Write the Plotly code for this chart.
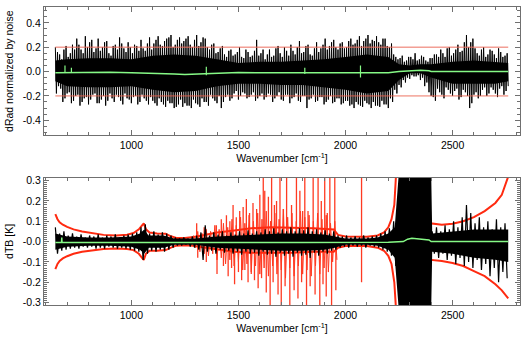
import plotly.graph_objects as go

# ---------------- data ----------------
# channel grid (wavenumber, cm-1) for the noisy black traces
wn_grid = list(range(645, 2746, 20))

# top panel: normalized radiance differences (upper / lower excursions, two sub-channels)
top_hi = [0.20, 0.14, 0.18, 0.12, 0.22, 0.27, 0.18, 0.29, 0.24, 0.16,
          0.27, 0.20, 0.25, 0.13, 0.22, 0.28, 0.19, 0.24, 0.15, 0.21,
          0.26, 0.17, 0.28, 0.23, 0.29, 0.21, 0.27, 0.30, 0.22, 0.28,
          0.25, 0.29, 0.20, 0.30, 0.24, 0.27, 0.18, 0.23, 0.16, 0.21,
          0.12, 0.18, 0.14, 0.20, 0.11, 0.16, 0.13, 0.26, 0.15, 0.10,
          0.18, 0.13, 0.21, 0.12, 0.17, 0.22, 0.14, 0.25, 0.16, 0.22,
          0.13, 0.24, 0.19, 0.27, 0.21, 0.26, 0.18, 0.24, 0.20, 0.27,
          0.23, 0.29, 0.25, 0.30, 0.26, 0.29, 0.22, 0.27, 0.20, 0.14,
          0.10, 0.13, 0.09, 0.12, 0.15, 0.10, 0.12, 0.08, 0.11, 0.14,
          0.18, 0.12, 0.20, 0.15, 0.22, 0.17, 0.30, 0.24, 0.19, 0.13,
          0.20, 0.14, 0.17, 0.11, 0.16, 0.13]
top_lo = [-0.12, -0.25, -0.18, -0.26, -0.20, -0.28, -0.22, -0.27, -0.19, -0.26,
          -0.23, -0.28, -0.18, -0.25, -0.21, -0.27, -0.22, -0.26, -0.20, -0.25,
          -0.22, -0.27, -0.24, -0.28, -0.25, -0.29, -0.26, -0.30, -0.27, -0.29,
          -0.28, -0.30, -0.26, -0.29, -0.25, -0.28, -0.22, -0.26, -0.30, -0.21,
          -0.24, -0.18, -0.23, -0.17, -0.22, -0.19, -0.24, -0.20, -0.23, -0.18,
          -0.25, -0.20, -0.23, -0.19, -0.26, -0.21, -0.24, -0.20, -0.30, -0.22,
          -0.25, -0.21, -0.27, -0.23, -0.26, -0.22, -0.27, -0.24, -0.28, -0.30,
          -0.27, -0.29, -0.26, -0.30, -0.28, -0.29, -0.27, -0.30, -0.25, -0.18,
          -0.13, -0.09, -0.06, -0.04, -0.03, -0.05, -0.09, -0.20, -0.24, -0.17,
          -0.22, -0.15, -0.20, -0.14, -0.21, -0.17, -0.30, -0.19, -0.22, -0.15,
          -0.20, -0.13, -0.18, -0.14, -0.19, -0.12]
top_hi2 = [0.16, 0.10, 0.21, 0.15, 0.18, 0.22, 0.15, 0.20, 0.26, 0.19,
           0.17, 0.24, 0.15, 0.21, 0.18, 0.23, 0.16, 0.20, 0.22, 0.17,
           0.19, 0.23, 0.18, 0.26, 0.22, 0.25, 0.28, 0.20, 0.26, 0.23,
           0.27, 0.22, 0.26, 0.21, 0.28, 0.20, 0.22, 0.15, 0.19, 0.14,
           0.17, 0.13, 0.16, 0.12, 0.18, 0.12, 0.17, 0.13, 0.18, 0.14,
           0.12, 0.19, 0.15, 0.20, 0.13, 0.17, 0.20, 0.15, 0.21, 0.14,
           0.19, 0.16, 0.22, 0.18, 0.24, 0.20, 0.23, 0.19, 0.25, 0.22,
           0.26, 0.21, 0.27, 0.23, 0.25, 0.24, 0.27, 0.21, 0.23, 0.12,
           0.11, 0.08, 0.12, 0.10, 0.09, 0.13, 0.09, 0.11, 0.14, 0.12,
           0.15, 0.19, 0.13, 0.18, 0.16, 0.24, 0.20, 0.27, 0.15, 0.18,
           0.12, 0.18, 0.14, 0.19, 0.12, 0.15]
top_lo2 = [-0.18, -0.14, -0.22, -0.17, -0.24, -0.19, -0.25, -0.21, -0.23, -0.18,
           -0.26, -0.20, -0.24, -0.22, -0.19, -0.24, -0.18, -0.23, -0.21, -0.27,
           -0.19, -0.24, -0.21, -0.26, -0.22, -0.27, -0.24, -0.26, -0.29, -0.23,
           -0.26, -0.28, -0.23, -0.27, -0.22, -0.25, -0.19, -0.24, -0.20, -0.25,
           -0.19, -0.22, -0.16, -0.20, -0.18, -0.21, -0.17, -0.22, -0.18, -0.21,
           -0.19, -0.22, -0.17, -0.24, -0.19, -0.22, -0.18, -0.25, -0.20, -0.23,
           -0.19, -0.24, -0.21, -0.25, -0.20, -0.25, -0.22, -0.26, -0.24, -0.27,
           -0.25, -0.28, -0.24, -0.27, -0.25, -0.28, -0.24, -0.27, -0.22, -0.15,
           -0.11, -0.07, -0.05, -0.03, -0.04, -0.07, -0.12, -0.17, -0.21, -0.14,
           -0.19, -0.13, -0.18, -0.16, -0.23, -0.15, -0.20, -0.26, -0.17, -0.20,
           -0.13, -0.18, -0.15, -0.21, -0.12, -0.16]

# top panel: dense core of the noise
core_wn = [645, 700, 800, 900, 1000, 1100, 1200, 1300, 1400, 1500, 1600, 1700, 1800,
           1900, 2000, 2100, 2200, 2250, 2300, 2350, 2400, 2500, 2600, 2700, 2760]
core_hi = [0.09, 0.10, 0.11, 0.11, 0.10, 0.13, 0.14, 0.13, 0.10, 0.07, 0.08, 0.08, 0.09,
           0.10, 0.12, 0.14, 0.12, 0.06, 0.05, 0.06, 0.06, 0.08, 0.09, 0.08, 0.07]
core_lo = [-0.08, -0.12, -0.13, -0.13, -0.12, -0.15, -0.17, -0.16, -0.12, -0.10, -0.10, -0.11, -0.11,
           -0.13, -0.15, -0.18, -0.16, -0.07, -0.015, -0.015, -0.05, -0.10, -0.10, -0.10, -0.08]

# top panel: mean (green)
g_top_wn = [645, 700, 760, 800, 900, 1000, 1100, 1200, 1250, 1300, 1400, 1500, 1600, 1700,
            1800, 1900, 2000, 2100, 2200, 2250, 2300, 2350, 2390, 2400, 2500, 2600, 2700, 2760]
g_top_val = [-0.01, -0.008, -0.005, -0.005, -0.005, -0.01, -0.012, -0.02, -0.025, -0.022, -0.012,
             -0.008, -0.01, -0.01, -0.012, -0.01, -0.015, -0.015, -0.01, 0.0, 0.008, 0.01, 0.006,
             0.0, 0.0, 0.0, 0.0, 0.0]
g_top_spk_wn = [690, 720, 1350, 1810, 2070]
g_top_spk_hi = [0.05, 0.03, 0.04, 0.03, 0.05]
g_top_spk_lo = [-0.01, -0.01, -0.03, -0.02, -0.05]

# threshold lines (top panel)
thr_wn = [645, 2760]
thr_val = [0.2, -0.2]

# bottom panel: brightness temperature differences
bot_hi = [0.07, 0.04, 0.05, 0.03, 0.04, 0.025, 0.035, 0.02, 0.03, 0.025,
          0.035, 0.02, 0.03, 0.025, 0.035, 0.02, 0.03, 0.035, 0.04, 0.045,
          0.07, 0.085, 0.04, 0.05, 0.035, 0.045, 0.04, 0.03, 0.02, 0.015,
          0.02, 0.015, 0.025, 0.03, 0.045, 0.08, 0.03, 0.045, 0.035, 0.05,
          0.03, 0.045, 0.035, 0.05, 0.04, 0.055, 0.04, 0.05, 0.045, 0.06,
          0.05, 0.065, 0.045, 0.06, 0.05, 0.07, 0.05, 0.065, 0.055, 0.07,
          0.05, 0.06, 0.045, 0.055, 0.04, 0.05, 0.03, 0.025, 0.03, 0.02,
          0.025, 0.02, 0.03, 0.02, 0.025, 0.03, 0.04, 0.05, 0.065, 0.10,
          0.16, 0.35, 0.35, 0.35, 0.35, 0.35, 0.35, 0.30, 0.05, 0.07,
          0.05, 0.08, 0.06, 0.10, 0.07, 0.12, 0.18, 0.14, 0.09, 0.12,
          0.07, 0.10, 0.06, 0.11, 0.07, 0.09]
bot_lo = [-0.06, -0.045, -0.04, -0.035, -0.03, -0.035, -0.025, -0.03, -0.025, -0.035,
          -0.03, -0.035, -0.025, -0.03, -0.035, -0.03, -0.035, -0.04, -0.045, -0.05,
          -0.09, -0.06, -0.045, -0.05, -0.04, -0.05, -0.04, -0.03, -0.02, -0.02,
          -0.015, -0.025, -0.03, -0.04, -0.09, -0.05, -0.045, -0.06, -0.04, -0.055,
          -0.045, -0.06, -0.05, -0.065, -0.05, -0.06, -0.055, -0.07, -0.05, -0.065,
          -0.06, -0.075, -0.055, -0.07, -0.06, -0.075, -0.055, -0.07, -0.065, -0.08,
          -0.055, -0.07, -0.05, -0.06, -0.045, -0.04, -0.03, -0.025, -0.03, -0.02,
          -0.025, -0.02, -0.03, -0.02, -0.025, -0.03, -0.04, -0.05, -0.07, -0.12,
          -0.35, -0.35, -0.35, -0.25, -0.20, -0.35, -0.35, -0.12, -0.06, -0.08,
          -0.06, -0.09, -0.07, -0.11, -0.08, -0.12, -0.10, -0.13, -0.09, -0.14,
          -0.11, -0.17, -0.13, -0.20, -0.15, -0.18]

bcore_wn = [645, 700, 800, 900, 1000, 1040, 1060, 1080, 1150, 1200, 1300, 1400, 1500, 1600,
            1700, 1800, 1900, 1950, 2000, 2100, 2150, 2200, 2230, 2250, 2400, 2405, 2500,
            2600, 2700, 2760]
bcore_hi = [0.04, 0.025, 0.02, 0.02, 0.025, 0.04, 0.06, 0.03, 0.03, 0.015, 0.015, 0.025, 0.03,
            0.035, 0.04, 0.04, 0.035, 0.025, 0.015, 0.015, 0.02, 0.04, 0.07, 0.35, 0.35, 0.04,
            0.05, 0.06, 0.06, 0.06]
bcore_lo = [-0.04, -0.025, -0.02, -0.02, -0.025, -0.04, -0.06, -0.03, -0.03, -0.015, -0.015,
            -0.03, -0.035, -0.04, -0.045, -0.045, -0.04, -0.03, -0.015, -0.015, -0.02, -0.04,
            -0.08, -0.35, -0.35, -0.05, -0.06, -0.08, -0.09, -0.10]

# bottom panel: red envelope (upper / lower)
red_wn = [645, 655, 665, 680, 700, 730, 770, 820, 870, 930,
          980, 1010, 1035, 1050, 1058, 1068, 1085, 1120, 1160, 1185,
          1210, 1250, 1290, 1330, 1400, 1480, 1560, 1650, 1750, 1850,
          1945, 1965, 2000, 2100, 2150, 2180, 2200, 2215, 2228, 2240,
          2390, 2396, 2450, 2500, 2550, 2600, 2650, 2700, 2730, 2760]
red_hi = [0.135, 0.11, 0.095, 0.083, 0.072, 0.06, 0.05, 0.04, 0.033, 0.03,
          0.034, 0.042, 0.06, 0.08, 0.09, 0.06, 0.045, 0.04, 0.038, 0.026,
          0.018, 0.018, 0.022, 0.03, 0.045, 0.055, 0.065, 0.07, 0.068, 0.065,
          0.06, 0.033, 0.025, 0.024, 0.03, 0.045, 0.07, 0.11, 0.18, 0.4,
          0.4, 0.09, 0.083, 0.088, 0.1, 0.12, 0.15, 0.19, 0.23, 0.32]
red_lo = [-0.135, -0.11, -0.095, -0.083, -0.072, -0.06, -0.05, -0.042, -0.036, -0.034,
          -0.036, -0.042, -0.06, -0.08, -0.09, -0.06, -0.045, -0.045, -0.042, -0.03,
          -0.02, -0.018, -0.02, -0.028, -0.04, -0.05, -0.055, -0.055, -0.055, -0.05,
          -0.05, -0.03, -0.022, -0.022, -0.03, -0.045, -0.07, -0.11, -0.2, -0.4,
          -0.4, -0.09, -0.095, -0.105, -0.12, -0.145, -0.17, -0.21, -0.24, -0.28]

# bottom panel: red noise band in the water-vapour region
red_nz_wn = list(range(1290, 1951, 20))
red_nz_hi = [0.03, 0.05, 0.04, 0.06, 0.05, 0.08, 0.06, 0.09, 0.07, 0.11,
             0.08, 0.12, 0.09, 0.13, 0.10, 0.14, 0.11, 0.15, 0.10, 0.14,
             0.11, 0.16, 0.12, 0.14, 0.10, 0.15, 0.12, 0.13, 0.10, 0.14,
             0.11, 0.13, 0.09, 0.10]
red_nz_lo = [-0.03, -0.05, -0.06, -0.07, -0.06, -0.09, -0.08, -0.11, -0.09, -0.12,
             -0.10, -0.14, -0.11, -0.15, -0.12, -0.16, -0.13, -0.17, -0.12, -0.16,
             -0.14, -0.18, -0.13, -0.17, -0.12, -0.16, -0.14, -0.17, -0.12, -0.16,
             -0.13, -0.15, -0.10, -0.09]

# bottom panel: red spikes
r_up_wn = [1305, 1340, 1397, 1420, 1444, 1460, 1475, 1490, 1506, 1522,
           1537, 1552, 1568, 1585, 1600, 1616, 1623, 1640, 1655, 1668,
           1678, 1694, 1710, 1725, 1748, 1771, 1787, 1800, 1810, 1825,
           1849, 1872, 1887, 1903, 1915, 1927, 1950, 2075]
r_up_val = [0.09, 0.07, 0.08, 0.11, 0.13, 0.10, 0.18, 0.12, 0.15, 0.17,
            0.21, 0.14, 0.19, 0.16, 0.23, 0.35, 0.25, 0.22, 0.35, 0.18,
            0.20, 0.35, 0.16, 0.35, 0.18, 0.35, 0.25, 0.15, 0.35, 0.15,
            0.35, 0.35, 0.20, 0.35, 0.14, 0.35, 0.35, 0.35]
r_dn_wn = [1310, 1350, 1400, 1430, 1452, 1468, 1482, 1500, 1515, 1530,
           1545, 1560, 1575, 1592, 1608, 1630, 1648, 1662, 1685, 1700,
           1718, 1740, 1760, 1778, 1795, 1818, 1835, 1858, 1880, 1895,
           1910, 1935, 1955, 2075]
r_dn_val = [-0.08, -0.10, -0.16, -0.12, -0.17, -0.13, -0.21, -0.15, -0.19, -0.14,
            -0.20, -0.16, -0.19, -0.23, -0.18, -0.25, -0.35, -0.20, -0.26, -0.35,
            -0.22, -0.35, -0.24, -0.28, -0.20, -0.35, -0.22, -0.26, -0.35, -0.21,
            -0.27, -0.35, -0.24, -0.20]

# bottom panel: mean (green)
g_bot_wn = [645, 674, 675, 676, 800, 1000, 1200, 1500, 1800, 2000, 2200, 2270, 2290, 2310,
            2340, 2370, 2390, 2400, 2600, 2760]
g_bot_val = [-0.005, -0.005, 0.02, -0.005, -0.004, -0.005, -0.005, -0.004, -0.004, -0.004,
             -0.003, 0.0, 0.012, 0.016, 0.013, 0.012, 0.008, 0.0, 0.0, 0.0]

# ---------------- helpers ----------------
def zigzag(xs, hi, lo):
    zx, zy = [], []
    for w, h, l in zip(xs, hi, lo):
        zx += [w, w + 10]
        zy += [h, l]
    return zx, zy

def zigzag4(xs, hi, lo2, hi2, lo):
    zx, zy = [], []
    for w, a, b, c, d in zip(xs, hi, lo2, hi2, lo):
        zx += [w, w + 5, w + 10, w + 15]
        zy += [a, b, c, d]
    return zx, zy

def band(xs, hi, lo):
    return list(xs) + list(xs)[::-1], list(hi) + list(lo)[::-1]

def spikes(xs, tops, base=0.0):
    sx, sy = [], []
    for w, t in zip(xs, tops):
        sx += [w, w, None]
        sy += [base, t, None]
    return sx, sy

def spikes2(xs, his, los):
    sx, sy = [], []
    for w, h, l in zip(xs, his, los):
        sx += [w, w, None]
        sy += [l, h, None]
    return sx, sy

fig = go.Figure()

# ---------------- top panel ----------------
bx, by = band(core_wn, core_hi, core_lo)
fig.add_trace(go.Scatter(x=bx, y=by, fill='toself', fillcolor='black',
                         line=dict(width=0), mode='lines', xaxis='x', yaxis='y'))
zx, zy = zigzag4(wn_grid, top_hi, top_lo2, top_hi2, top_lo)
fig.add_trace(go.Scatter(x=zx, y=zy, mode='lines', line=dict(color='black', width=1),
                         xaxis='x', yaxis='y'))
fig.add_trace(go.Scatter(x=thr_wn, y=[thr_val[0]] * 2, mode='lines',
                         line=dict(color='#ec6e5e', width=1), xaxis='x', yaxis='y'))
fig.add_trace(go.Scatter(x=thr_wn, y=[thr_val[1]] * 2, mode='lines',
                         line=dict(color='rgba(236,95,75,0.5)', width=1.6), xaxis='x', yaxis='y'))
fig.add_trace(go.Scatter(x=g_top_wn, y=g_top_val, mode='lines',
                         line=dict(color='#86f986', width=1.5), xaxis='x', yaxis='y'))
sx, sy = spikes2(g_top_spk_wn, g_top_spk_hi, g_top_spk_lo)
fig.add_trace(go.Scatter(x=sx, y=sy, mode='lines', line=dict(color='#86f986', width=1.2),
                         xaxis='x', yaxis='y'))

# ---------------- bottom panel ----------------
zx, zy = zigzag(red_nz_wn, red_nz_hi, red_nz_lo)
fig.add_trace(go.Scatter(x=zx, y=zy, mode='lines', line=dict(color='#ff3a22', width=1),
                         xaxis='x2', yaxis='y2'))
sx, sy = spikes(r_up_wn, r_up_val)
fig.add_trace(go.Scatter(x=sx, y=sy, mode='lines', line=dict(color='#ff3a22', width=1.3),
                         xaxis='x2', yaxis='y2'))
sx, sy = spikes(r_dn_wn, r_dn_val)
fig.add_trace(go.Scatter(x=sx, y=sy, mode='lines', line=dict(color='#ff3a22', width=1.3),
                         xaxis='x2', yaxis='y2'))
fig.add_trace(go.Scatter(x=red_wn, y=red_hi, mode='lines', line=dict(color='#ff2a10', width=2),
                         xaxis='x2', yaxis='y2'))
fig.add_trace(go.Scatter(x=red_wn, y=red_lo, mode='lines', line=dict(color='#ff2a10', width=2),
                         xaxis='x2', yaxis='y2'))
bx, by = band(bcore_wn, bcore_hi, bcore_lo)
fig.add_trace(go.Scatter(x=bx, y=by, fill='toself', fillcolor='black',
                         line=dict(width=0), mode='lines', xaxis='x2', yaxis='y2'))
zx, zy = zigzag(wn_grid, bot_hi, bot_lo)
fig.add_trace(go.Scatter(x=zx, y=zy, mode='lines', line=dict(color='black', width=1.2),
                         xaxis='x2', yaxis='y2'))
fig.add_trace(go.Scatter(x=g_bot_wn, y=g_bot_val, mode='lines',
                         line=dict(color='#86f986', width=1.5), xaxis='x2', yaxis='y2'))

# ---------------- layout ----------------
font = dict(family='Liberation Sans, Arial, sans-serif', size=10.5, color='black')
axcol = '#707070'

def xax(anchor):
    return dict(anchor=anchor, domain=[0, 1], range=[592, 2815], showgrid=False, zeroline=False,
                showline=True, linecolor=axcol, linewidth=1, mirror='allticks',
                ticks='inside', ticklen=5, tickcolor=axcol, tickwidth=1,
                tickmode='array', tickvals=[1000, 1500, 2000, 2500],
                ticktext=['1000', '1500', '2000', '2500'], tickfont=font,
                title=dict(text='Wavenumber [cm<sup>-1</sup>]', font=font, standoff=1),
                minor=dict(ticks='inside', ticklen=3, tickcolor=axcol, tickmode='linear',
                           tick0=0, dtick=100))

def yax(anchor, domain, rng, vals, texts, mdt, title):
    return dict(anchor=anchor, domain=domain, range=rng, showgrid=False,
                zeroline=False, showline=True, linecolor=axcol, mirror='allticks',
                ticks='inside', ticklen=5, tickcolor=axcol, tickmode='array',
                tickvals=vals, ticktext=texts, tickfont=font,
                title=dict(text=title, font=font, standoff=7),
                minor=dict(ticks='inside', ticklen=3, tickcolor=axcol, tickmode='linear',
                           tick0=0, dtick=mdt))

fig.update_layout(
    width=527, height=338, margin=dict(l=44, r=7, t=7, b=33, autoexpand=False),
    paper_bgcolor='white', plot_bgcolor='white', showlegend=False, font=font,
    xaxis=xax('y'), xaxis2=xax('y2'),
    yaxis=yax('x', [0.569, 1], [-0.525, 0.53], [-0.4, -0.2, 0, 0.2, 0.4],
              ['-0.4', '-0.2', '0.0', '0.2', '0.4'], 0.05, 'dRad normalized by noise'),
    yaxis2=yax('x2', [0, 0.427], [-0.312, 0.314], [-0.3, -0.2, -0.1, 0, 0.1, 0.2, 0.3],
               ['-0.3', '-0.2', '-0.1', '-0.0', '0.1', '0.2', '0.3'], 0.01, 'dTB [K]'),
)

fig.write_html('out.html')
